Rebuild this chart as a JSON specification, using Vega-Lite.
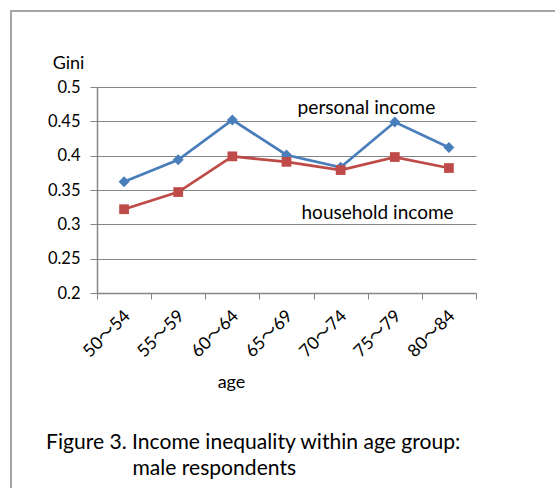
{
  "$schema": "https://vega.github.io/schema/vega-lite/v6.json",
  "width": 560,
  "height": 495,
  "autosize": {"type": "none"},
  "padding": {"left": 11, "top": 11, "right": -16, "bottom": -18},
  "background": "white",
  "config": {
    "view": {"stroke": "#a6a6a6", "strokeWidth": 2},
    "font": "Lato",
    "text": {"font": "Lato"}
  },
  "title": {
    "text": [
      "Figure 3. Income inequality within age group:",
      "\u200b\u00a0\u00a0\u00a0\u00a0\u00a0\u00a0\u00a0\u00a0\u00a0\u00a0\u00a0\u00a0\u00a0\u00a0\u00a0\u00a0male respondents"
    ],
    "orient": "bottom",
    "frame": "group",
    "anchor": "start",
    "align": "left",
    "baseline": "alphabetic",
    "offset": -57,
    "dx": 35,
    "font": "Lato",
    "fontSize": 21.1,
    "fontWeight": "normal",
    "lineHeight": 26,
    "color": "#000000"
  },
  "datasets": {
    "gini": [
      {"age": "50～54", "series": "personal income", "gini": 0.362},
      {"age": "55～59", "series": "personal income", "gini": 0.394},
      {"age": "60～64", "series": "personal income", "gini": 0.452},
      {"age": "65～69", "series": "personal income", "gini": 0.401},
      {"age": "70～74", "series": "personal income", "gini": 0.383},
      {"age": "75～79", "series": "personal income", "gini": 0.449},
      {"age": "80～84", "series": "personal income", "gini": 0.412},
      {"age": "50～54", "series": "household income", "gini": 0.322},
      {"age": "55～59", "series": "household income", "gini": 0.347},
      {"age": "60～64", "series": "household income", "gini": 0.399},
      {"age": "65～69", "series": "household income", "gini": 0.391},
      {"age": "70～74", "series": "household income", "gini": 0.379},
      {"age": "75～79", "series": "household income", "gini": 0.398},
      {"age": "80～84", "series": "household income", "gini": 0.382}
    ],
    "personalLabel": [{"label": "personal income"}],
    "householdLabel": [{"label": "household income"}]
  },
  "layer": [
    {
      "data": {"name": "gini"},
      "mark": {"type": "line", "strokeWidth": 2.75},
      "encoding": {
        "x": {
          "field": "age",
          "type": "nominal",
          "sort": null,
          "scale": {"type": "band", "range": [86, 465], "paddingInner": 0, "paddingOuter": 0},
          "axis": {
            "title": "age",
            "titleFont": "Lato",
            "titleFontSize": 18,
            "titleFontWeight": "normal",
            "titleColor": "#000000",
            "titleX": 220,
            "titleY": 89,
            "titleAlign": "center",
            "titleBaseline": "middle",
            "offset": -213,
            "tickBand": "extent",
            "tickSize": 6,
            "tickColor": "#868686",
            "domainColor": "#868686",
            "domainWidth": 1.5,
            "labelAngle": -45,
            "labelAlign": "right",
            "labelBaseline": "middle",
            "labelPadding": 14,
            "labelOffset": 3,
            "labelFont": "Lato, Noto Sans CJK JP",
            "labelFontSize": 17.5,
            "labelColor": "#000000",
            "grid": false
          }
        },
        "y": {
          "field": "gini",
          "type": "quantitative",
          "scale": {"domain": [0.2, 0.5], "range": [282, 76], "zero": false, "nice": false},
          "axis": {
            "title": "Gini",
            "titleFont": "Lato",
            "titleFontSize": 18,
            "titleFontWeight": "normal",
            "titleColor": "#000000",
            "titleAngle": 0,
            "titleX": -29,
            "titleY": 52,
            "titleAlign": "center",
            "titleBaseline": "middle",
            "offset": -86,
            "values": [0.2, 0.25, 0.3, 0.35, 0.4, 0.45, 0.5],
            "format": "~g",
            "tickSize": 7,
            "tickColor": "#868686",
            "domainColor": "#868686",
            "domainWidth": 1.5,
            "labelPadding": 10,
            "labelFont": "Lato",
            "labelFontSize": 16.5,
            "labelColor": "#000000",
            "grid": true,
            "gridColor": "#868686",
            "gridWidth": 1
          }
        },
        "color": {
          "field": "series",
          "type": "nominal",
          "scale": {"domain": ["personal income", "household income"], "range": ["#4a7ebb", "#be4b48"]},
          "legend": null
        }
      }
    },
    {
      "data": {"name": "gini"},
      "mark": {"type": "point", "filled": true, "opacity": 1},
      "encoding": {
        "x": {"field": "age", "type": "nominal", "sort": null},
        "y": {"field": "gini", "type": "quantitative"},
        "color": {"field": "series", "type": "nominal", "legend": null},
        "shape": {
          "field": "series",
          "type": "nominal",
          "scale": {"domain": ["personal income", "household income"], "range": ["diamond", "square"]},
          "legend": null
        },
        "size": {
          "field": "series",
          "type": "nominal",
          "scale": {"domain": ["personal income", "household income"], "range": [120, 95]},
          "legend": null
        }
      }
    },
    {
      "data": {"name": "personalLabel"},
      "mark": {"type": "text", "align": "left", "baseline": "alphabetic", "fontSize": 19.2, "dx": 11, "color": "#000000"},
      "encoding": {
        "x": {"datum": "65～69"},
        "y": {"datum": 0.46},
        "text": {"field": "label", "type": "nominal"}
      }
    },
    {
      "data": {"name": "householdLabel"},
      "mark": {"type": "text", "align": "left", "baseline": "alphabetic", "fontSize": 19, "dx": 15, "dy": -5, "color": "#000000"},
      "encoding": {
        "x": {"datum": "65～69"},
        "y": {"datum": 0.3},
        "text": {"field": "label", "type": "nominal"}
      }
    }
  ]
}
